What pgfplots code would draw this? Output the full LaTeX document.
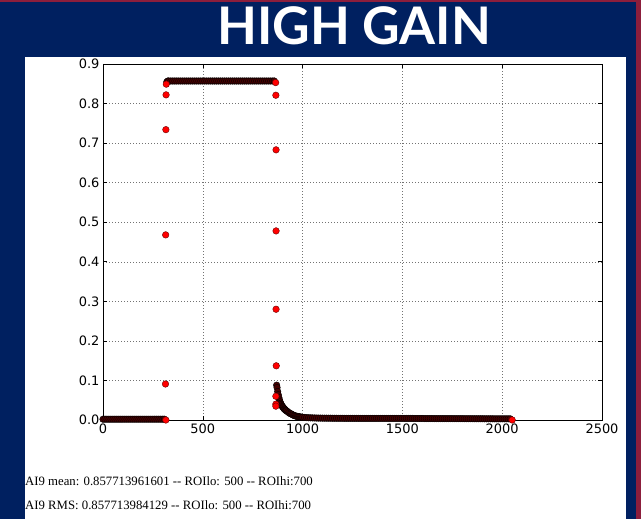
\documentclass[border=0pt]{standalone}
\usepackage{pgfplots}
\pgfplotsset{compat=1.18}
\usepackage{fontspec}
\setmainfont{Liberation Serif}
\newfontfamily\dejavu{DejaVu Sans}
\newfontfamily\titlefont{Lato}
\definecolor{navy}{RGB}{0,32,96}
\definecolor{maroonb}{RGB}{140,30,60}
\definecolor{darkband}{RGB}{70,0,0}
\begin{document}
\begin{tikzpicture}[x=1bp,y=1bp]
\fill[navy] (0,0) rectangle (641,519);
\fill[maroonb] (0,517) rectangle (641,519);
\fill[maroonb] (636,0) rectangle (641,519);
\fill[white] (25,0) rectangle (626,462);
\node[text=white, font=\titlefont\bfseries\fontsize{52}{52}\selectfont, anchor=base, inner sep=0] at (354,474) {HIGH GAIN};
\node[anchor=base west, font=\fontsize{12.8}{13}\selectfont, inner sep=0] at (25,33) {AI9 mean: 0.857713961601 -{}- ROIlo: 500 -{}- ROIhi:700};
\node[anchor=base west, font=\fontsize{12.8}{13}\selectfont, inner sep=0] at (25,9) {AI9 RMS: 0.857713984129 -{}- ROIlo: 500 -{}- ROIhi:700};
\begin{axis}[at={(103bp,99bp)}, anchor=south west, scale only axis,
  width=499bp, height=356bp,
  xmin=0, xmax=2500, ymin=0, ymax=0.9,
  xtick={0,500,1000,1500,2000,2500},
  ytick={0,0.1,0.2,0.3,0.4,0.5,0.6,0.7,0.8,0.9},
  scaled x ticks=false,
  xticklabel style={/pgf/number format/1000 sep={}},
  yticklabel style={/pgf/number format/fixed, /pgf/number format/fixed zerofill, /pgf/number format/precision=1},
  /pgf/number format/assume math mode=true,
  ticklabel style={font=\dejavu\fontsize{13}{13}\selectfont},
  axis line style={black, line width=0.8bp},
  tick style={black, line width=0.6bp},
  major tick length=4bp,
  tick align=inside,
  grid=major,
  major grid style={black!55, line width=0.5bp, dash pattern=on 1bp off 2bp},
  ]
% dense runs of samples (overlapping markers read as dark)
\addplot[only marks, mark=*, mark size=3.3bp, mark options={fill=darkband, draw=black, line width=0.4bp}] coordinates {
(0,0.002)(10,0.002)(20,0.002)(30,0.002)(40,0.002)(50,0.002)(60,0.002)(70,0.002)(80,0.002)(90,0.002)
(100,0.002)(110,0.002)(120,0.002)(130,0.002)(140,0.002)(150,0.002)(160,0.002)(170,0.002)(180,0.002)(190,0.002)
(200,0.002)(210,0.002)(220,0.002)(230,0.002)(240,0.002)(250,0.002)(260,0.002)(270,0.002)(280,0.002)(290,0.002)
(300,0.002)(308,0.002)
(320,0.855)(325,0.857)(330,0.857)(340,0.857)(350,0.857)(360,0.857)(370,0.857)(380,0.857)(390,0.857)
(400,0.857)(410,0.857)(420,0.857)(430,0.857)(440,0.857)(450,0.857)(460,0.857)(470,0.857)(480,0.857)(490,0.857)
(500,0.857)(510,0.857)(520,0.857)(530,0.857)(540,0.857)(550,0.857)(560,0.857)(570,0.857)(580,0.857)(590,0.857)
(600,0.857)(610,0.857)(620,0.857)(630,0.857)(640,0.857)(650,0.857)(660,0.857)(670,0.857)(680,0.857)(690,0.857)
(700,0.857)(710,0.857)(720,0.857)(730,0.857)(740,0.857)(750,0.857)(760,0.857)(770,0.857)(780,0.857)(790,0.857)
(800,0.857)(810,0.857)(820,0.857)(830,0.857)(840,0.857)(850,0.857)(858,0.857)
(870,0.088)(872,0.082)(875,0.072)(878,0.064)(881,0.057)(884,0.051)(887,0.046)(890,0.042)(893,0.039)(896,0.036)(899,0.034)
(902,0.032)(905,0.030)(908,0.028)(911,0.027)(914,0.025)(917,0.024)(920,0.023)(925,0.021)(930,0.019)(935,0.017)
(940,0.016)(945,0.015)(950,0.013)(955,0.012)(960,0.011)(965,0.010)(970,0.0095)(975,0.009)(980,0.0085)(985,0.008)
(990,0.0075)(995,0.007)(1000,0.0068)(1010,0.0064)(1020,0.006)(1030,0.0057)(1040,0.0055)(1050,0.0053)(1060,0.0051)(1070,0.005)
(1080,0.0049)(1090,0.0048)(1100,0.0047)(1110,0.0046)(1120,0.0046)(1130,0.0045)(1140,0.0045)(1150,0.0044)(1160,0.0044)(1170,0.0044)
(1180,0.0043)(1190,0.0043)(1200,0.0043)(1210,0.0042)(1220,0.0042)(1230,0.0042)(1240,0.0042)(1250,0.0041)(1260,0.0041)(1270,0.0041)
(1280,0.0041)(1290,0.004)(1300,0.004)(1310,0.004)(1320,0.004)(1330,0.004)(1340,0.004)(1350,0.004)(1360,0.004)(1370,0.004)
(1380,0.004)(1390,0.004)(1400,0.004)(1410,0.004)(1420,0.004)(1430,0.004)(1440,0.004)(1450,0.004)(1460,0.004)(1470,0.004)
(1480,0.004)(1490,0.004)(1500,0.004)(1510,0.0039)(1520,0.0039)(1530,0.0039)(1540,0.0039)(1550,0.0039)(1560,0.0038)(1570,0.0038)
(1580,0.0038)(1590,0.0038)(1600,0.0038)(1610,0.0037)(1620,0.0037)(1630,0.0037)(1640,0.0037)(1650,0.0037)(1660,0.0036)(1670,0.0036)
(1680,0.0036)(1690,0.0036)(1700,0.0036)(1710,0.0035)(1720,0.0035)(1730,0.0035)(1740,0.0035)(1750,0.0035)(1760,0.0034)(1770,0.0034)
(1780,0.0034)(1790,0.0034)(1800,0.0034)(1810,0.0033)(1820,0.0033)(1830,0.0033)(1840,0.0033)(1850,0.0033)(1860,0.0032)(1870,0.0032)
(1880,0.0032)(1890,0.0032)(1900,0.0032)(1910,0.0031)(1920,0.0031)(1930,0.0031)(1940,0.0031)(1950,0.0031)(1960,0.003)(1970,0.003)
(1980,0.003)(1990,0.003)(2000,0.003)(2010,0.003)(2020,0.003)(2030,0.003)(2040,0.003)
};
% isolated transition samples
\addplot[only marks, mark=*, mark size=3.3bp, mark options={fill=red, draw=black!60!red, line width=0.4bp}] coordinates {
(315,0.0)(313,0.091)(314,0.468)(315,0.734)(316,0.822)(317,0.849)
(865,0.853)(866,0.821)(867,0.683)(867,0.478)(867,0.280)(868,0.137)(866,0.060)(866,0.040)(866,0.035)
(2050,0.0)
};
\end{axis}
\end{tikzpicture}
\end{document}
